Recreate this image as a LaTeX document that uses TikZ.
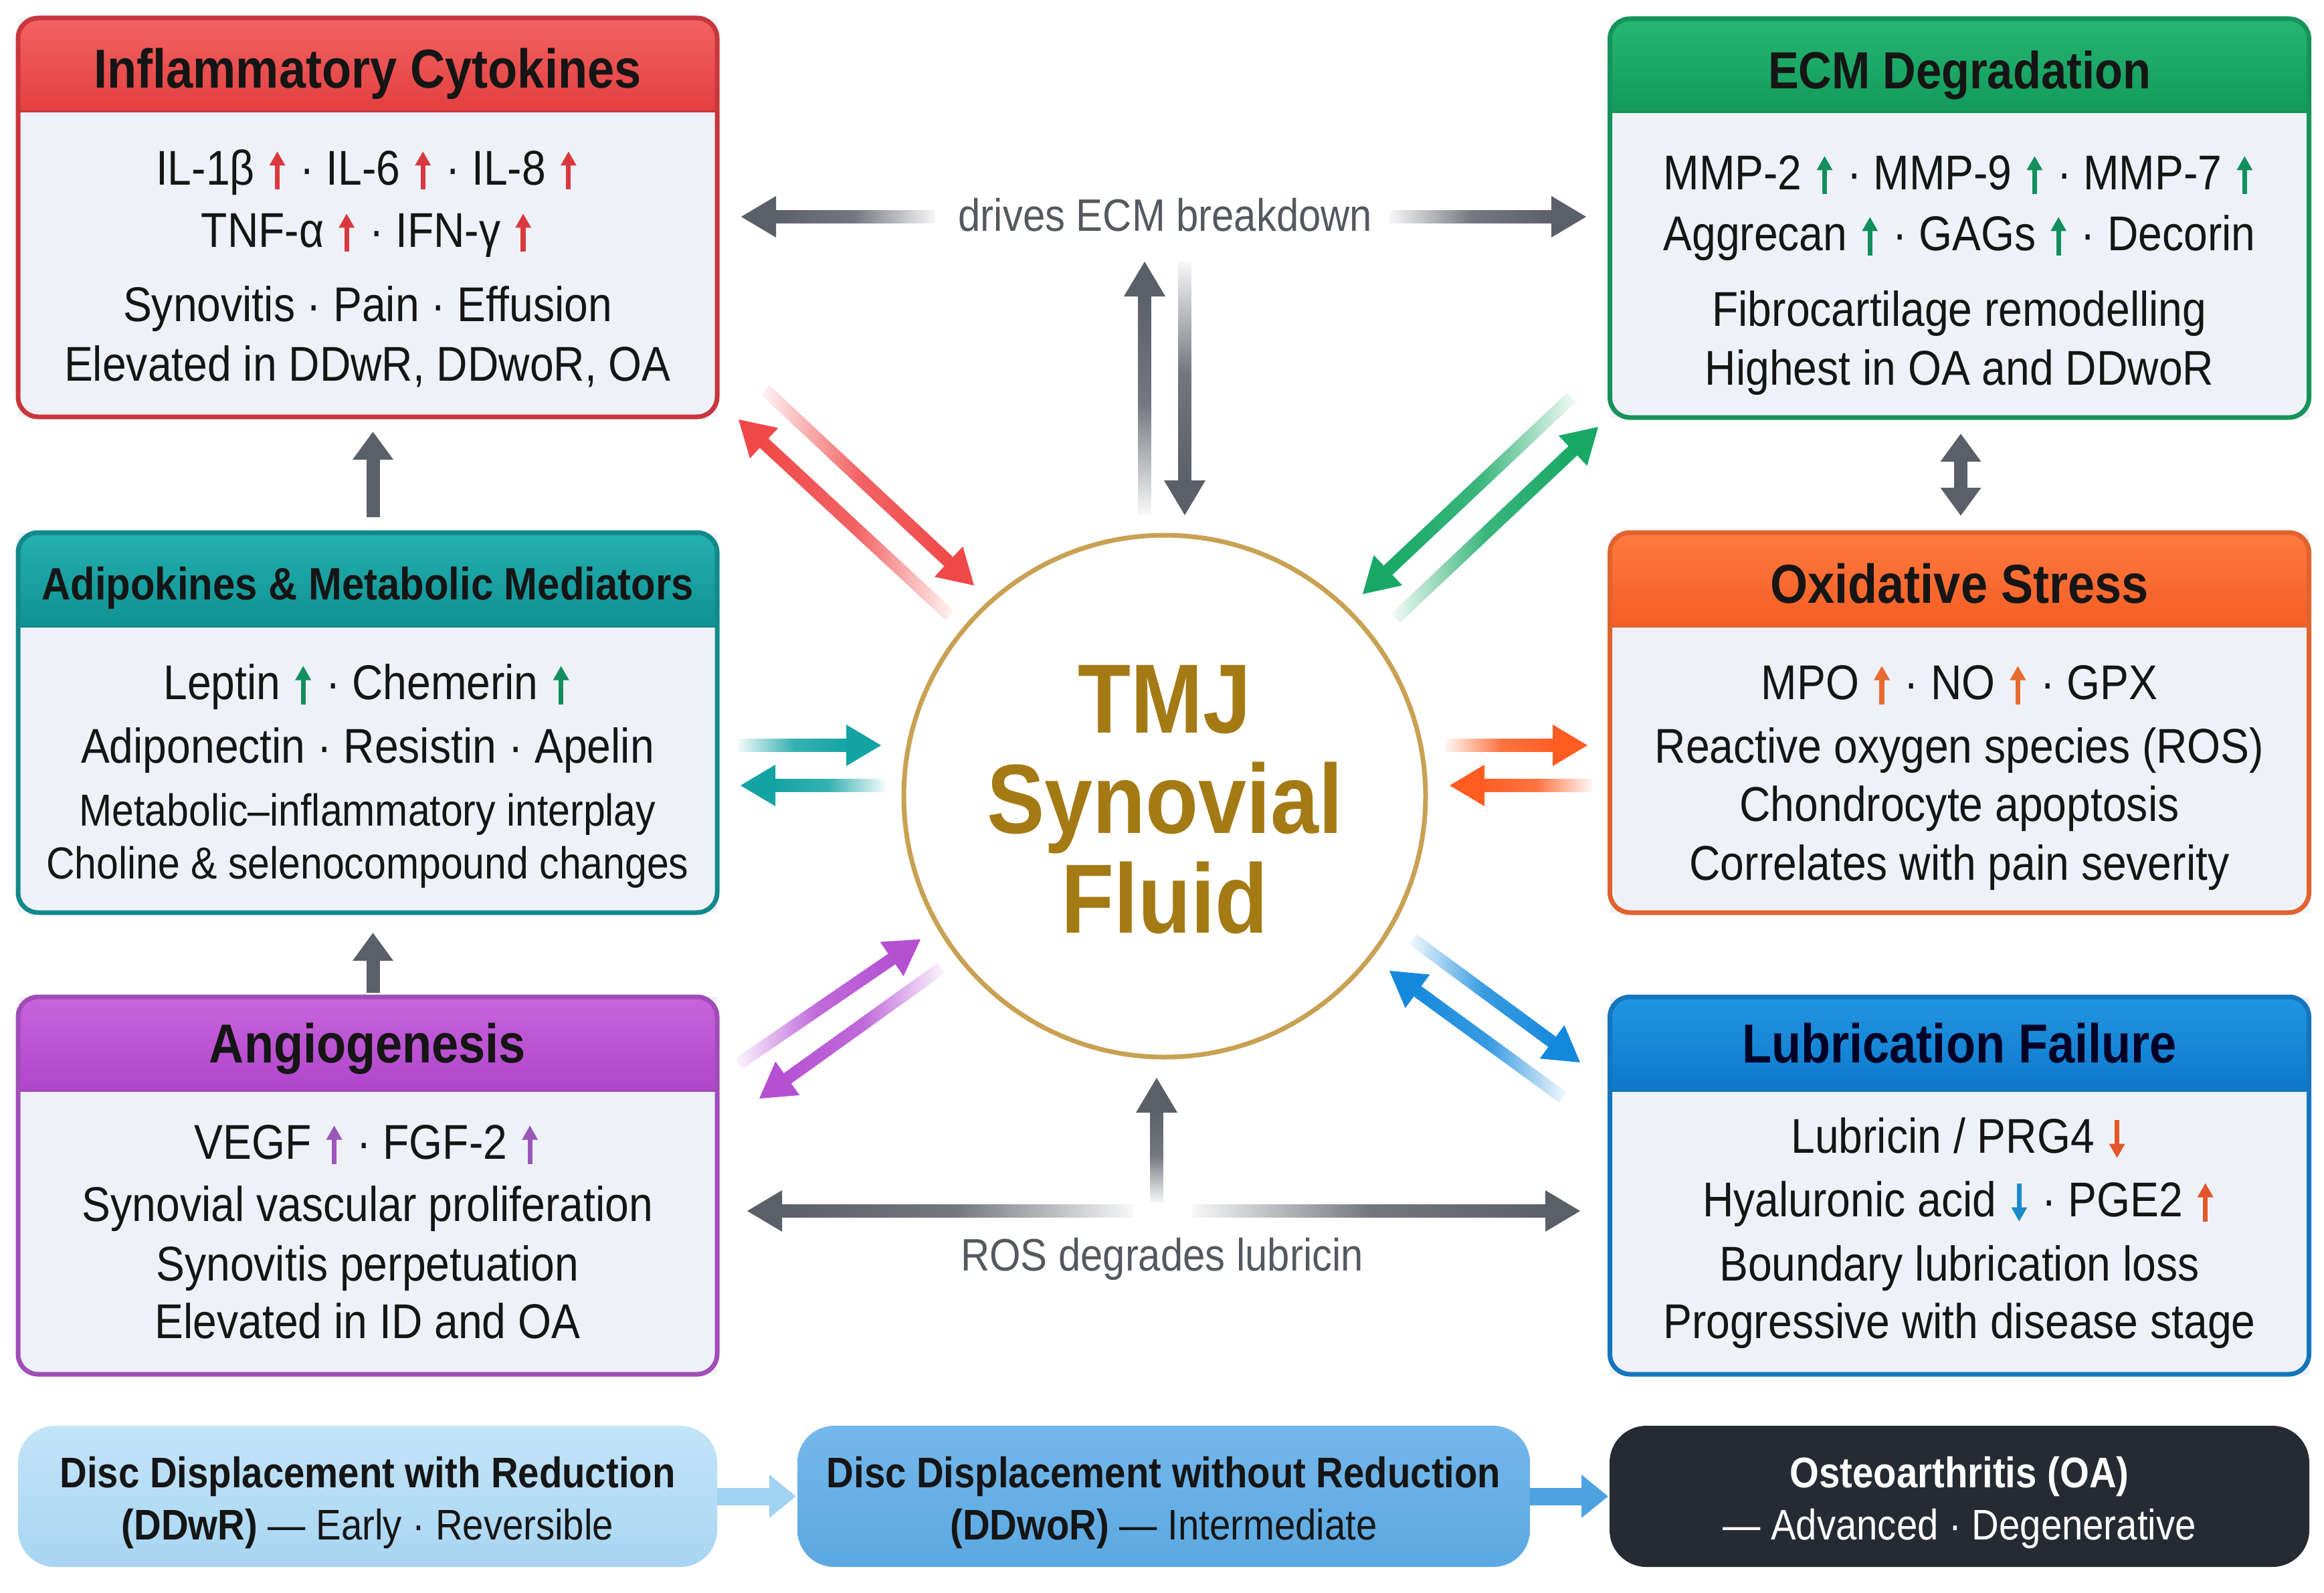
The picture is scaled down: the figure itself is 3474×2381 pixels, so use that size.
\documentclass[tikz,border=0pt]{standalone}
\usepackage{fontspec}
\setmainfont{Liberation Sans}[FakeStretch=0.88]
\usetikzlibrary{calc,arrows.meta}

\definecolor{redtop}{HTML}{F36262}
\definecolor{redbot}{HTML}{E2403F}
\definecolor{redborder}{HTML}{C9363B}
\definecolor{greentop}{HTML}{26B673}
\definecolor{greenbot}{HTML}{139A5C}
\definecolor{greenborder}{HTML}{16935B}
\definecolor{tealtop}{HTML}{25B0B0}
\definecolor{tealbot}{HTML}{0F9292}
\definecolor{tealborder}{HTML}{13898B}
\definecolor{orangetop}{HTML}{FF7A40}
\definecolor{orangebot}{HTML}{F45E24}
\definecolor{orangeborder}{HTML}{E0632E}
\definecolor{purpletop}{HTML}{C864DC}
\definecolor{purplebot}{HTML}{B045CB}
\definecolor{purpleborder}{HTML}{A04DB8}
\definecolor{bluetop}{HTML}{2296E2}
\definecolor{bluebot}{HTML}{0E78CB}
\definecolor{blueborder}{HTML}{1475BF}
\definecolor{panelbg}{HTML}{EEF2F8}
\definecolor{greyarr}{HTML}{5B5F67}
\definecolor{greytext}{HTML}{55595F}
\definecolor{gold}{HTML}{C9A153}
\definecolor{goldtext}{HTML}{A47A14}
\definecolor{arred}{HTML}{F04848}
\definecolor{argreen}{HTML}{17A865}
\definecolor{arteal}{HTML}{13A3A3}
\definecolor{arorange}{HTML}{FF5C22}
\definecolor{arpurple}{HTML}{B550D3}
\definecolor{arblue}{HTML}{1489DC}
\definecolor{pillAtop}{HTML}{C3E4F8}
\definecolor{pillAbot}{HTML}{A8D5F2}
\definecolor{pillBtop}{HTML}{74B8EA}
\definecolor{pillBbot}{HTML}{5BA8E2}
\definecolor{pillC}{HTML}{262B33}
\definecolor{pillarrA}{HTML}{A0D2F2}
\definecolor{pillarrB}{HTML}{4CA3E0}
\definecolor{upred}{HTML}{D9393E}
\definecolor{upgreen}{HTML}{138F5E}
\definecolor{uporange}{HTML}{E86A30}
\definecolor{uppurple}{HTML}{9C56BA}
\definecolor{downblue}{HTML}{1A8BC9}
\definecolor{downorange}{HTML}{E2562A}
\definecolor{inkdark}{HTML}{151515}

% tall thin trend arrows drawn as small inline pictures
\newcommand\up[1]{\kern4pt\relax\tikz[baseline=0pt,x=1pt,y=1pt]{\fill[#1] (-3.6,-7) rectangle (3.6,31); \fill[#1] (0,50) -- (-12,29) -- (12,29) -- cycle;}\kern4pt\relax}
\newcommand\dn[1]{\kern4pt\relax\tikz[baseline=0pt,x=1pt,y=1pt]{\fill[#1] (-3.6,50) rectangle (3.6,12); \fill[#1] (0,-7) -- (-12,14) -- (12,14) -- cycle;}\kern4pt\relax}

% #1 name, #2 cx, #3 cy, #4 height, #5 colour family
\newcommand\panel[5]{%
  \node[panelbox, minimum height=#4] (#1) at (#2,#3) {};
  \begin{scope}
    \clip[rounded corners=30pt] (#1.north west) rectangle (#1.south east);
    \shade[top color=#5top, bottom color=#5bot] (#1.north west) rectangle ([yshift=-140pt]#1.north east);
    \draw[#5border, line width=3pt] ([yshift=-140pt]#1.north west) -- ([yshift=-140pt]#1.north east);
  \end{scope}
  \draw[#5border, line width=7pt, rounded corners=30pt] (#1.north west) rectangle (#1.south east);
}

% #1 shading style, #2 colour, #3 tail, #4 head
\newcommand\fadearr[4]{%
  \coordinate (fa-b) at ($(#4)!46pt!(#3)$);
  \coordinate (fa-c) at ($(#4)!52pt!(#3)$);
  \shade[#1=#2] ($(#3)!9.5pt!90:(#4)$) -- ($(fa-b)!9.5pt!-90:(#3)$) -- ($(fa-b)!9.5pt!90:(#3)$) -- ($(#3)!9.5pt!-90:(#4)$) -- cycle;
  \fill[#2] (#4) -- ($(fa-c)!31pt!90:(#4)$) -- ($(fa-c)!31pt!-90:(#4)$) -- cycle;
}

\tikzset{
  panelbox/.style={rectangle, fill=panelbg, minimum width=1045pt, inner sep=0pt, outer sep=0pt},
  headtxt/.style={font=\fontsize{80}{90}\selectfont\bfseries, text=inkdark, inner sep=0pt, text height=58pt, text depth=0pt},
  bodytxt/.style={font=\fontsize{73}{85}\selectfont, text=inkdark, inner sep=0pt, text height=53pt, text depth=0pt},
  smalltxt/.style={bodytxt, font=\fontsize{67}{78}\selectfont, text height=49pt},
  pilltxt/.style={font=\fontsize{64}{74}\selectfont, text=inkdark, inner sep=0pt, text height=46pt, text depth=0pt},
  greylabel/.style={font=\fontsize{68}{78}\selectfont, text=greytext, inner sep=0pt, text height=50pt, text depth=0pt},
  circletxt/.style={font=\fontsize{147}{150}\selectfont\bfseries, text=goldtext, inner sep=0pt, text height=107pt, text depth=0pt},
  pill/.style={rectangle, rounded corners=55pt, minimum height=211pt, inner sep=0pt, outer sep=0pt},
  fadeR/.style={left color=#1!5, right color=#1, middle color=#1!85},
  fadeL/.style={left color=#1, right color=#1!5, middle color=#1!85},
  fadeU/.style={top color=#1, bottom color=#1!5, middle color=#1!85},
  fadeD/.style={top color=#1!5, bottom color=#1, middle color=#1!85},
  greyconn/.style={draw=greyarr, line width=20pt, -{Triangle[length=42pt,width=58pt]}},
  greyconn2/.style={draw=greyarr, line width=20pt, {Triangle[length=42pt,width=58pt]}-{Triangle[length=42pt,width=58pt]}},
  pillarrow/.style={line width=26pt, -{Triangle[length=40pt,width=62pt]}},
}

\begin{document}
\begin{tikzpicture}[x=1pt,y=-1pt]
\useasboundingbox (0,0) rectangle (3474,2381);
\fill[white] (0,0) rectangle (3474,2381);

% ---------- panels ----------
\panel{infl}{549.5}{325}{596pt}{red}
\panel{ecm}{2929}{326}{596pt}{green}
\panel{adip}{549.5}{1080}{568pt}{teal}
\panel{oxid}{2929}{1080}{568pt}{orange}
\panel{angio}{549.5}{1772}{564pt}{purple}
\panel{lubr}{2929}{1772}{564pt}{blue}

% Inflammatory
\node[headtxt, font=\fontsize{82}{92}\selectfont\bfseries, text height=60pt] (infl-t) at (549.5,102) {Inflammatory Cytokines};
\node[bodytxt] (infl-1) at (549.5,250) {IL-1β \up{upred} · IL-6 \up{upred} · IL-8 \up{upred}};
\node[bodytxt] (infl-2) at (549.5,343) {TNF-α \up{upred} · IFN-γ \up{upred}};
\node[bodytxt] (infl-3) at (549.5,454) {Synovitis · Pain · Effusion};
\node[bodytxt] (infl-4) at (549.5,543) {Elevated in DDwR, DDwoR, OA};

% ECM
\node[headtxt, font=\fontsize{78}{88}\selectfont\bfseries] (ecm-t) at (2929,104) {ECM Degradation};
\node[bodytxt] (ecm-1) at (2929,257) {MMP-2 \up{upgreen} · MMP-9 \up{upgreen} · MMP-7 \up{upgreen}};
\node[bodytxt] (ecm-2) at (2929,348) {Aggrecan \up{upgreen} · GAGs \up{upgreen} · Decorin};
\node[bodytxt] (ecm-3) at (2929,461) {Fibrocartilage remodelling};
\node[bodytxt] (ecm-4) at (2929,549) {Highest in OA and DDwoR};

% Adipokines
\node[headtxt, font=\fontsize{68}{78}\selectfont\bfseries, text height=50pt] (adip-t) at (549.5,871) {Adipokines \& Metabolic Mediators};
\node[bodytxt] (adip-1) at (549.5,1019) {Leptin \up{upgreen} · Chemerin \up{upgreen}};
\node[bodytxt] (adip-2) at (549.5,1114) {Adiponectin · Resistin · Apelin};
\node[smalltxt] (adip-3) at (549.5,1210) {Metabolic–inflammatory interplay};
\node[smalltxt] (adip-4) at (549.5,1289) {Choline \& selenocompound changes};

% Oxidative
\node[headtxt, font=\fontsize{82}{92}\selectfont\bfseries, text height=60pt] (oxid-t) at (2929,871) {Oxidative Stress};
\node[bodytxt] (oxid-1) at (2929,1019) {MPO \up{uporange} · NO \up{uporange} · GPX};
\node[bodytxt] (oxid-2) at (2929,1114) {Reactive oxygen species (ROS)};
\node[bodytxt] (oxid-3) at (2929,1201) {Chondrocyte apoptosis};
\node[bodytxt] (oxid-4) at (2929,1289) {Correlates with pain severity};

% Angiogenesis
\node[headtxt, font=\fontsize{82}{92}\selectfont\bfseries, text height=60pt] (angio-t) at (549.5,1558) {Angiogenesis};
\node[bodytxt] (angio-1) at (549.5,1706) {VEGF \up{uppurple} · FGF-2 \up{uppurple}};
\node[bodytxt] (angio-2) at (549.5,1799) {Synovial vascular proliferation};
\node[bodytxt] (angio-3) at (549.5,1888) {Synovitis perpetuation};
\node[bodytxt] (angio-4) at (549.5,1974) {Elevated in ID and OA};

% Lubrication
\node[headtxt, font=\fontsize{82}{92}\selectfont\bfseries, text height=60pt, text=black!85!blue] (lubr-t) at (2929,1558) {Lubrication Failure};
\node[bodytxt] (lubr-1) at (2929,1697) {Lubricin / PRG4 \dn{downorange}};
\node[bodytxt] (lubr-2) at (2929,1792) {Hyaluronic acid \dn{downblue} · PGE2 \up{downorange}};
\node[bodytxt] (lubr-3) at (2929,1888) {Boundary lubrication loss};
\node[bodytxt] (lubr-4) at (2929,1974) {Progressive with disease stage};

% ---------- panel connectors ----------
\draw[greyconn, shorten <=23pt, shorten >=22pt] ([xshift=8pt]adip.north) -- ([xshift=8pt]infl.south);
\draw[greyconn, shorten <=6pt, shorten >=30pt] ([xshift=8pt]angio.north) -- ([xshift=8pt]adip.south);
\draw[greyconn2, shorten <=25pt, shorten >=24pt] ([xshift=2pt]oxid.north) -- ([xshift=2pt]ecm.south);

% ---------- centre ----------
\node[circle, draw=gold, line width=7pt, fill=white, minimum size=780pt, inner sep=0pt] (tmj) at (1741,1190) {};
\node[circletxt] (tmj-1) at (1741,1042) {TMJ};
\node[circletxt] (tmj-2) at (1741,1192) {Synovial};
\node[circletxt] (tmj-3) at (1741,1341) {Fluid};

% ---------- arrow end points ----------
\coordinate (rL-h) at (1104,627);  \coordinate (rL-t) at (1420,920);
\coordinate (rR-t) at (1144,583);  \coordinate (rR-h) at (1456,875);
\coordinate (gR-h) at (2389,638);  \coordinate (gR-t) at (2086,924);
\coordinate (gL-t) at (2349,594);  \coordinate (gL-h) at (2037,888);
\coordinate (pU-h) at (1376,1404); \coordinate (pU-t) at (1104,1590);
\coordinate (pD-t) at (1407,1447); \coordinate (pD-h) at (1135,1642);
\coordinate (bL-h) at (2077,1451); \coordinate (bL-t) at (2336,1640);
\coordinate (bR-t) at (2112,1404); \coordinate (bR-h) at (2362,1588);
\coordinate (tR-t) at (1102,1114); \coordinate (tR-h) at (1317,1114);
\coordinate (tL-h) at (1107,1174); \coordinate (tL-t) at (1323,1174);
\coordinate (oR-t) at (2160,1114); \coordinate (oR-h) at (2373,1114);
\coordinate (oL-h) at (2167,1174); \coordinate (oL-t) at (2380,1174);
\coordinate (gtL-h) at (1108,324); \coordinate (gtL-t) at (1398,324);
\coordinate (gtR-t) at (2077,324); \coordinate (gtR-h) at (2371,324);
\coordinate (gvU-t) at (1711,768); \coordinate (gvU-h) at (1711,391);
\coordinate (gvD-t) at (1771,391); \coordinate (gvD-h) at (1771,770);
\coordinate (gbU-t) at (1729,1797); \coordinate (gbU-h) at (1729,1611);
\coordinate (gbL-h) at (1117,1810); \coordinate (gbL-t) at (1693,1810);
\coordinate (gbR-t) at (1782,1810); \coordinate (gbR-h) at (2362,1810);

% ---------- coloured arrows ----------
\fadearr{fadeL}{arred}{rL-t}{rL-h}
\fadearr{fadeR}{arred}{rR-t}{rR-h}
\fadearr{fadeR}{argreen}{gR-t}{gR-h}
\fadearr{fadeL}{argreen}{gL-t}{gL-h}
\fadearr{fadeR}{arpurple}{pU-t}{pU-h}
\fadearr{fadeL}{arpurple}{pD-t}{pD-h}
\fadearr{fadeL}{arblue}{bL-t}{bL-h}
\fadearr{fadeR}{arblue}{bR-t}{bR-h}
\fadearr{fadeR}{arteal}{tR-t}{tR-h}
\fadearr{fadeL}{arteal}{tL-t}{tL-h}
\fadearr{fadeR}{arorange}{oR-t}{oR-h}
\fadearr{fadeL}{arorange}{oL-t}{oL-h}

% ---------- grey arrows ----------
\fadearr{fadeL}{greyarr}{gtL-t}{gtL-h}
\fadearr{fadeR}{greyarr}{gtR-t}{gtR-h}
\fadearr{fadeU}{greyarr}{gvU-t}{gvU-h}
\fadearr{fadeD}{greyarr}{gvD-t}{gvD-h}
\fadearr{fadeU}{greyarr}{gbU-t}{gbU-h}
\fadearr{fadeL}{greyarr}{gbL-t}{gbL-h}
\fadearr{fadeR}{greyarr}{gbR-t}{gbR-h}

\node[greylabel] (lab-top) at (1742,321) {drives ECM breakdown};
\node[greylabel] (lab-bot) at (1737,1874) {ROS degrades lubricin};

% ---------- stage pills ----------
\node[pill, top color=pillAtop, bottom color=pillAbot, minimum width=1045pt] (p1) at (549.5,2236.5) {};
\node[pill, top color=pillBtop, bottom color=pillBbot, minimum width=1095pt] (p2) at (1739.5,2236.5) {};
\node[pill, fill=pillC, minimum width=1046pt] (p3) at (2929,2236.5) {};

\draw[pillarrow, pillarrA, shorten >=2pt] (p1.east) -- (p2.west);
\draw[pillarrow, pillarrB, shorten >=2pt] (p2.east) -- (p3.west);

\node[pilltxt, font=\fontsize{64}{74}\selectfont\bfseries] (p1-1) at (549.5,2200) {Disc Displacement with Reduction};
\node[pilltxt] (p1-2) at (549.5,2278) {\textbf{(DDwR)} — Early · Reversible};
\node[pilltxt, font=\fontsize{64}{74}\selectfont\bfseries] (p2-1) at (1739.5,2200) {Disc Displacement without Reduction};
\node[pilltxt] (p2-2) at (1739.5,2278) {\textbf{(DDwoR)} — Intermediate};
\node[pilltxt, text=white, font=\fontsize{64}{74}\selectfont\bfseries] (p3-1) at (2929,2200) {Osteoarthritis (OA)};
\node[pilltxt, text=white] (p3-2) at (2929,2278) {— Advanced · Degenerative};
\end{tikzpicture}
\end{document}
